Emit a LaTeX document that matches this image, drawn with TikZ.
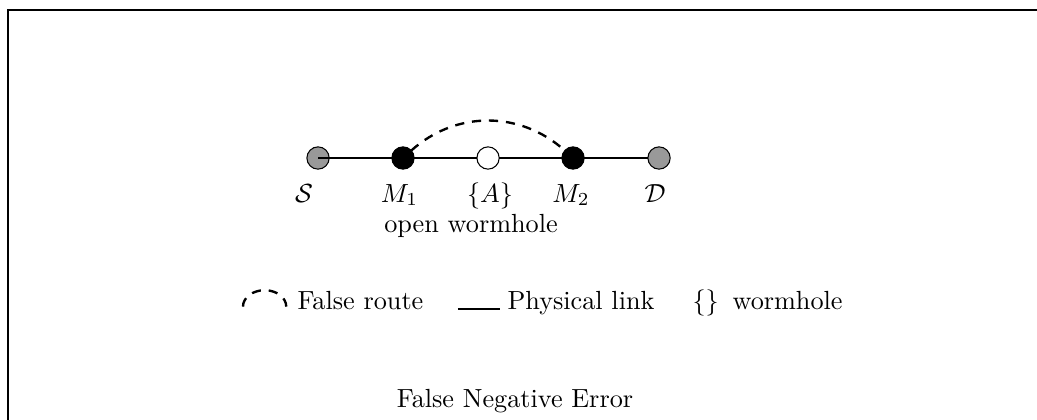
\documentclass[tikz,border=0pt]{standalone}
\usepackage{amsmath}
\tikzset{hop/.style={circle, draw=black, minimum size=#1, inner sep=0pt, outer sep=0pt},
%default size of a hop is 8.5pt.
hop/.default={8.5pt},
falseroute/.style={line width=0.9pt, dash pattern=on 3.5pt off 3pt}}

\begin{document}
\begin{tikzpicture}

    \clip (0,0) rectangle (13.9,-5.617);
    \draw[line width=0.8pt] (0.107,-0.134) rectangle (15,-7);

    \node[hop, fill=black!40] (S) at (4.263,-2.118) {};
    \node[hop, fill=black] (M1) at (5.402,-2.118) {};
    \node[hop, fill=white] (A) at (6.542,-2.118) {};
    \node[hop, fill=black] (M2) at (7.681,-2.118) {};
    \node[hop, fill=black!40] (D) at (8.834,-2.118) {};

    \foreach \n/\x/\t in {lS/4.075/$\mathcal{S}$, lM1/5.355/$M_1$, lA/6.568/$\{A\}$, lM2/7.654/$M_2$, lD/8.780/$\mathcal{D}$}
    \node[anchor=base] (\n) at (\x,-2.708) {\t};

    \node[anchor=base] (open) at (6.314,-3.110) {open wormhole};

    \draw (S.center) -- (M1) -- (A) -- (M2) -- (D);
    \draw[falseroute] (M1) to[bend left=42] (M2);

    % legend
    \coordinate (arcL) at (3.257,-4.11);
    \coordinate (linkL) at (6.139,-4.142);
    \coordinate (linkR) at (6.702,-4.142);

    \draw[falseroute] (arcL) arc[start angle=180, end angle=0, x radius=0.29, y radius=0.22];
    \node[anchor=base west, inner sep=0pt] (route) at (3.981,-4.142) {False route};
    \draw[thick] (linkL) -- (linkR);
    \node[anchor=base west, inner sep=0pt] (link) at (6.796,-4.142) {Physical link};
    \node[anchor=base west, inner sep=0pt] (brace) at (9.276,-4.142) {$\{\}$};
    \node[anchor=base west, inner sep=0pt] (hole) at (9.812,-4.142) {wormhole};

    \node[anchor=base] (title) at (6.903,-5.456) {False Negative Error};

  \end{tikzpicture}
\end{document}
